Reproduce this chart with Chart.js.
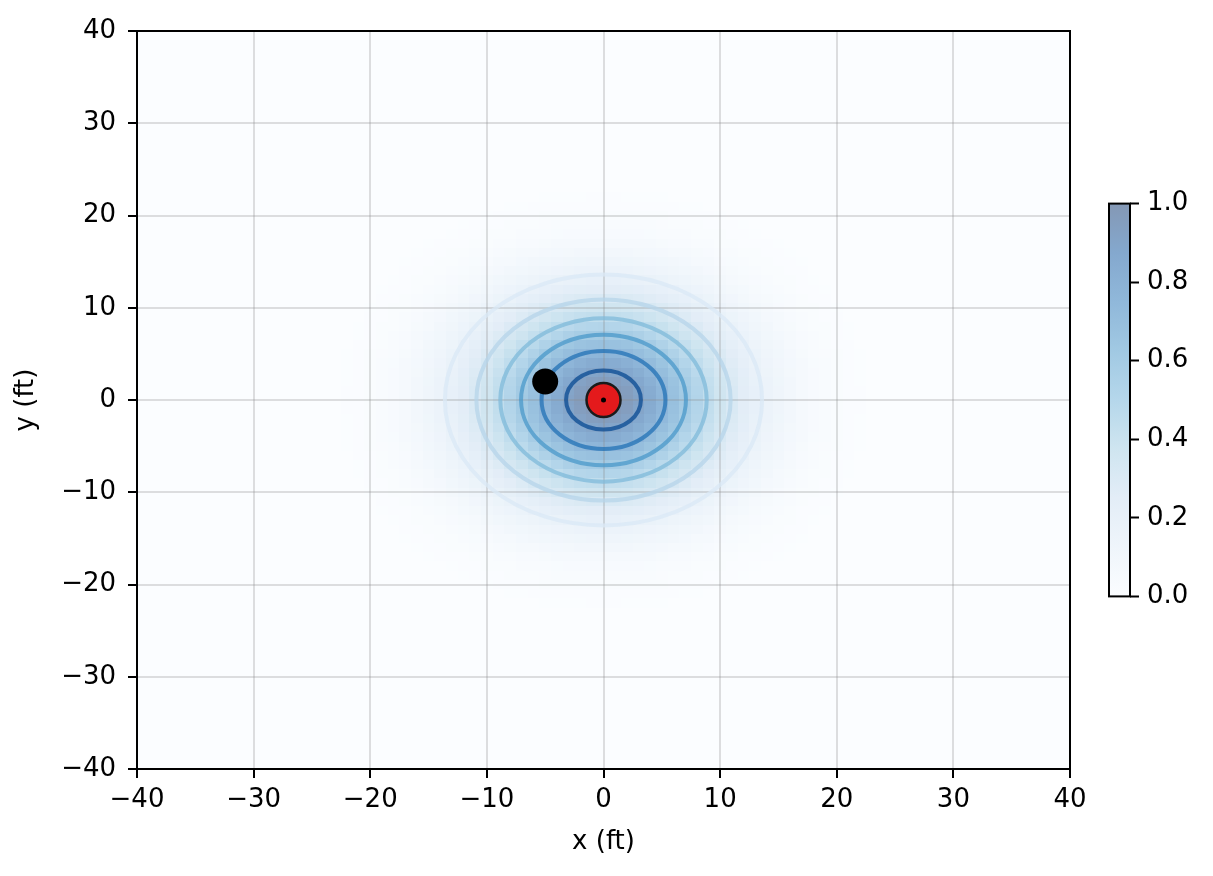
<!DOCTYPE html>
<html>
<head>
<meta charset="utf-8">
<script src="https://cdn.jsdelivr.net/npm/chart.js@4.4.1/dist/chart.umd.min.js"></script>
<style>
  body { margin: 0; background: #fff; }
  #wrap { position: relative; width: 1213px; height: 876px; }
  #main { position: absolute; left: 0; top: 0; }
  #cbar { position: absolute; left: 1100px; top: 180px; }
</style>
</head>
<body>
<div id="wrap">
  <canvas id="main" width="1213" height="876"></canvas>
  <canvas id="cbar" width="113" height="440"></canvas>
</div>
<script>
// values
const heatCenter = [0, 0];
// heatmap intensity at distance 0, 1, 2 ... ft from the centre
const heatProfile = [1.0, 0.99, 0.96, 0.91, 0.85, 0.77, 0.69, 0.61, 0.52, 0.44,
    0.37, 0.31, 0.25, 0.20, 0.155, 0.12, 0.09, 0.065, 0.045, 0.03,
    0.02, 0.013, 0.008, 0.004, 0.002, 0];
const contourLevels = [0.15, 0.30, 0.45, 0.60, 0.75, 0.90];
const contourRadii = [13.6, 10.9, 8.85, 7.07, 5.31, 3.21];
const playerX = [-5];
const playerY = [2];
const targetX = [0];
const targetY = [0];
const axisTicks = [-40, -30, -20, -10, 0, 10, 20, 30, 40];
const cbarTicks = [0, 0.2, 0.4, 0.6, 0.8, 1.0];

// Blues colormap
const blues = [
    [0.0, 247, 251, 255], [0.125, 222, 235, 247], [0.25, 198, 219, 239],
    [0.375, 158, 202, 225], [0.5, 107, 174, 214], [0.625, 66, 146, 198],
    [0.75, 33, 113, 181], [0.875, 8, 81, 156], [1.0, 8, 48, 107]
];

function bluesAt(v) {
    v = Math.max(0, Math.min(1, v));
    for (let i = 1; i < blues.length; i++) {
        if (v <= blues[i][0]) {
            const a = blues[i - 1], b = blues[i];
            const t = (v - a[0]) / (b[0] - a[0]);
            return [1, 2, 3].map(k => a[k] + (b[k] - a[k]) * t);
        }
    }
    return blues[blues.length - 1].slice(1);
}

// alpha 0.5 over white
function heatColor(v) {
    const c = bluesAt(v).map(k => Math.round((k + 255) / 2));
    return `rgb(${c[0]},${c[1]},${c[2]})`;
}

function profileAt(d) {
    const i = Math.floor(d);
    if (i >= heatProfile.length - 1) return 0;
    const t = d - i;
    return heatProfile[i] * (1 - t) + heatProfile[i + 1] * t;
}

const font = { family: "DejaVu Sans", size: 26 };
const minus = v => String(v).replace("-", "\u2212");

const heatPlugin = {
    id: "heat",
    beforeDraw(chart) {
        const { ctx, chartArea: a, scales: { x, y } } = chart;
        ctx.save();
        ctx.fillStyle = heatColor(0);
        ctx.fillRect(a.left, a.top, a.width, a.height);
        for (let i = -40; i <= 40; i++) {
            for (let j = -40; j <= 40; j++) {
                const v = profileAt(Math.hypot(i - heatCenter[0], j - heatCenter[1]));
                if (v <= 0) continue;
                const x0 = Math.round(x.getPixelForValue(Math.max(i - 0.5, -40)));
                const x1 = Math.round(x.getPixelForValue(Math.min(i + 0.5, 40)));
                const y0 = Math.round(y.getPixelForValue(Math.max(j - 0.5, -40)));
                const y1 = Math.round(y.getPixelForValue(Math.min(j + 0.5, 40)));
                ctx.fillStyle = heatColor(v);
                ctx.fillRect(x0, y1, x1 - x0, y0 - y1);
            }
        }
        ctx.restore();
    }
};

const contourPlugin = {
    id: "contours",
    beforeDatasetsDraw(chart) {
        const { ctx, chartArea: a, scales: { x, y } } = chart;
        ctx.save();
        ctx.beginPath();
        ctx.rect(a.left, a.top, a.width, a.height);
        ctx.clip();
        const cx = x.getPixelForValue(heatCenter[0]);
        const cy = y.getPixelForValue(heatCenter[1]);
        contourLevels.forEach((lvl, k) => {
            const r = contourRadii[k];
            const rx = Math.abs(x.getPixelForValue(heatCenter[0] + r) - cx);
            const ry = Math.abs(y.getPixelForValue(heatCenter[1] + r) - cy);
            const c = bluesAt(lvl).map(Math.round);
            ctx.strokeStyle = `rgba(${c[0]},${c[1]},${c[2]},0.75)`;
            ctx.lineWidth = 4;
            ctx.beginPath();
            ctx.ellipse(cx, cy, rx, ry, 0, 0, Math.PI * 2);
            ctx.stroke();
        });
        ctx.restore();
    }
};

const framePlugin = {
    id: "frame",
    afterDraw(chart) {
        const { ctx, chartArea: a } = chart;
        ctx.save();
        ctx.strokeStyle = "#000";
        ctx.lineWidth = 2;
        ctx.strokeRect(a.left, a.top, a.width, a.height);
        ctx.restore();
    }
};

const gridOpts = {
    color: "rgba(140,140,140,0.28)",
    lineWidth: 2,
    tickColor: "#000",
    tickLength: 9,
    tickWidth: 2
};

new Chart(document.getElementById("main"), {
    type: "scatter",
    data: {
        datasets: [
            { data: targetX.map((v, i) => ({ x: v, y: targetY[i] })), backgroundColor: "#000",
              pointRadius: 2.5, borderWidth: 0 },
            { data: targetX.map((v, i) => ({ x: v, y: targetY[i] })), backgroundColor: "#e41a1c",
              borderColor: "#1a1a1a", borderWidth: 2.5, pointRadius: 17 },
            { data: playerX.map((v, i) => ({ x: v, y: playerY[i] })), backgroundColor: "#000",
              pointRadius: 13, borderWidth: 0 }
        ]
    },
    options: {
        responsive: false,
        animation: false,
        layout: { padding: { left: 0, right: 143, top: 31, bottom: 0 } },
        plugins: { legend: { display: false }, tooltip: { enabled: false } },
        scales: {
            x: {
                type: "linear", min: -40, max: 40,
                afterBuildTicks: s => { s.ticks = axisTicks.map(v => ({ value: v })); },
                afterFit: s => { s.height = 107; },
                ticks: { font, color: "#000", padding: 7, maxRotation: 0, callback: minus },
                grid: gridOpts,
                border: { display: false },
                title: { display: true, text: "x (ft)", font, color: "#000", padding: { top: 0, bottom: 18 } }
            },
            y: {
                type: "linear", min: -40, max: 40,
                afterBuildTicks: s => { s.ticks = axisTicks.map(v => ({ value: v })); },
                afterFit: s => { s.width = 137; },
                ticks: { font, color: "#000", padding: 12, callback: minus },
                grid: gridOpts,
                border: { display: false },
                title: { display: true, text: "y (ft)", font, color: "#000", padding: { top: 11, bottom: 0 } }
            }
        }
    },
    plugins: [heatPlugin, contourPlugin, framePlugin]
});

const cbarPlugin = {
    id: "cbarFill",
    beforeDraw(chart) {
        const { ctx, chartArea: a, scales: { y } } = chart;
        const g = ctx.createLinearGradient(0, y.getPixelForValue(0), 0, y.getPixelForValue(1));
        for (let v = 0; v <= 1.0001; v += 0.0625) g.addColorStop(Math.min(v, 1), heatColor(v));
        ctx.save();
        ctx.fillStyle = g;
        ctx.fillRect(a.left, a.top, a.width, a.height);
        ctx.restore();
    },
    afterDraw(chart) {
        const { ctx, chartArea: a } = chart;
        ctx.save();
        ctx.strokeStyle = "#000";
        ctx.lineWidth = 2;
        ctx.strokeRect(a.left, a.top, a.width, a.height);
        ctx.restore();
    }
};

new Chart(document.getElementById("cbar"), {
    type: "scatter",
    data: { datasets: [] },
    options: {
        responsive: false,
        animation: false,
        layout: { padding: { left: 9, right: 0, top: 21, bottom: 23 } },
        plugins: { legend: { display: false }, tooltip: { enabled: false } },
        scales: {
            x: { display: false, min: 0, max: 1 },
            y: {
                type: "linear", position: "right", min: 0, max: 1,
                afterBuildTicks: s => { s.ticks = cbarTicks.map(v => ({ value: v })); },
                afterFit: s => { s.width = 83; },
                ticks: { font, color: "#000", padding: 8, callback: v => v.toFixed(1) },
                grid: { drawOnChartArea: false, tickColor: "#000", tickLength: 9, tickWidth: 2 },
                border: { display: false }
            }
        }
    },
    plugins: [cbarPlugin]
});
</script>
</body>
</html>
